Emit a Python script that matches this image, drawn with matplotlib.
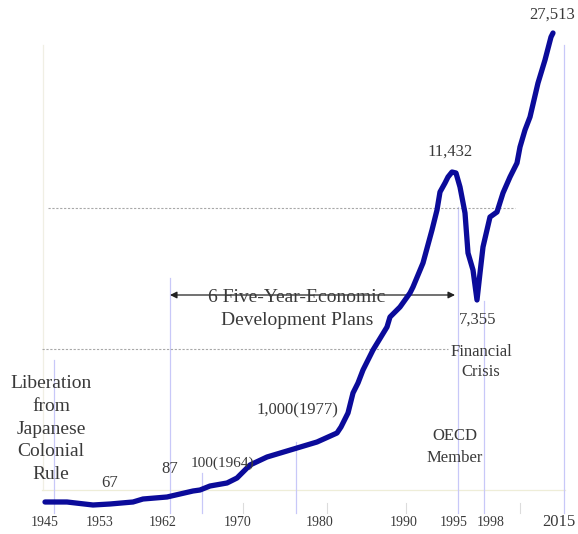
"""Korea per-capita income path, 1945-2015 (schematic reproduction)."""
import matplotlib

matplotlib.use("Agg")
import matplotlib.pyplot as plt  # noqa: E402

# Schematic chart: the original has no numeric value axis, so the curve is kept in
# chart units (x to the right, y downward).
CURVE_X = [45, 67, 93, 110, 133, 143, 167, 180, 193, 200, 210, 227, 237, 250, 267,
           297, 317, 337, 341, 348, 353, 358, 363, 373, 387, 390, 400, 410, 413, 423,
           432, 437, 440, 445, 448, 452, 456, 460, 465, 468, 473, 477, 480, 483, 490,
           497, 503, 510, 517, 520, 525, 530, 538, 545, 551, 553]
CURVE_Y = [502, 502, 505, 504, 502, 499, 497, 494, 491, 490, 486, 483, 478, 465, 457,
           448, 442, 433, 427, 413, 393, 383, 370, 350, 327, 317, 307, 293, 287, 263,
           230, 210, 192, 183, 177, 172, 173, 187, 213, 253, 270, 300, 273, 247, 217,
           212, 193, 177, 163, 147, 130, 117, 83, 60, 37, 33]

TICK_POS = [45, 100, 163, 238, 320, 404, 454, 491, 559]
TICK_LABELS = ["1945", "1953", "1962", "1970", "1980", "1990", "1995", "1998", "2015"]
MINOR_TICKS = [243, 327, 406, 520]

# (x, y_top, y_bottom) for the light blue reference lines
VLINES = [(54, 360, 513), (170, 278, 513), (202, 473, 513), (296, 442, 513),
          (458, 207, 513), (484, 301, 513), (564, 45, 513)]
# (y, x_left, x_right) for the dotted grey levels
HLINES = [(208, 48, 515), (349, 42, 448)]

VALUE_LABELS = [
    ("67", 110, 483, 12),
    ("87", 170, 469, 12),
    ("100(1964)", 222, 463, 11),
    ("1,000(1977)", 297, 410, 12),
    ("11,432", 450, 152, 12),
    ("7,355", 478, 320, 12),
    ("27,513", 552, 15, 12),
]
NOTES = [
    ("Liberation\nfrom\nJapanese\nColonial\nRule", 51, 429, 14, 1.45),
    ("6 Five-Year-Economic\nDevelopment Plans", 297, 309, 14, 1.4),
    ("Financial\nCrisis", 481, 362, 12, 1.4),
    ("OECD\nMember", 455, 447, 12, 1.45),
]

TEXT = "#3a3a3a"
LINE = "#0b0b9a"
VBLUE = "#c8c8f8"

plt.rcParams["font.family"] = ["Liberation Serif", "DejaVu Serif"]

fig = plt.figure(figsize=(5.78, 5.34), dpi=100)
ax = fig.add_axes([0, 0, 1, 1])
ax.set_xlim(0, 578)
ax.set_ylim(534, 0)
ax.axis("off")

# faint frame
ax.plot([43, 43], [45, 490], color="#f0efe4", lw=0.9, zorder=1)
ax.plot([42, 565], [490, 490], color="#eeedd8", lw=0.9, zorder=1)

for x, y0, y1 in VLINES:
    ax.plot([x, x], [y0, y1], color=VBLUE, lw=0.9, zorder=1)
for y, x0, x1 in HLINES:
    ax.plot([x0, x1], [y, y], color="#a8a8a8", lw=0.8, ls=(0, (2, 1.5)), zorder=1)
for x in MINOR_TICKS:
    ax.plot([x, x], [503, 513], color="#dcdcdc", lw=0.8, zorder=1)

ax.plot(CURVE_X, CURVE_Y, color=LINE, lw=3.8, solid_joinstyle="round",
        solid_capstyle="round", zorder=4)

# plans arrow
ax.annotate("", xy=(170, 295), xytext=(455, 295),
            arrowprops=dict(arrowstyle="<|-|>", color="#222222", lw=0.9,
                            mutation_scale=10, shrinkA=0, shrinkB=0), zorder=3)

for pos, lab in zip(TICK_POS, TICK_LABELS):
    ax.text(pos, 522, lab, ha="center", va="center",
            fontsize=12 if lab == "2015" else 10, color=TEXT)

for s, x, y, fs in VALUE_LABELS:
    ax.text(x, y, s, ha="center", va="center", fontsize=fs, color=TEXT, zorder=5)
for s, x, y, fs, ls in NOTES:
    ax.text(x, y, s, ha="center", va="center", fontsize=fs, color=TEXT,
            linespacing=ls, zorder=5)

fig.savefig("out.png", dpi=100, facecolor="white")
